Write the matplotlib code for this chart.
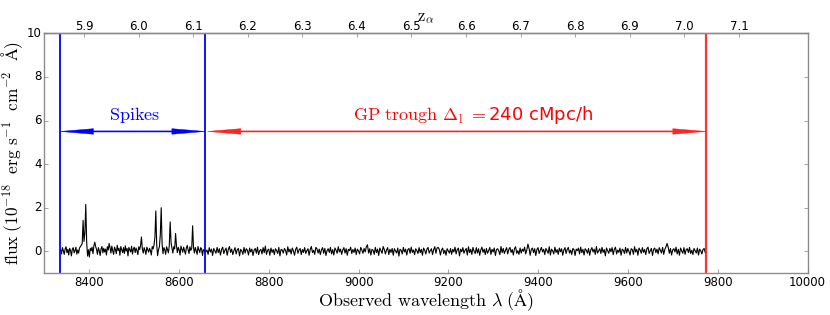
import numpy as np
import matplotlib
matplotlib.use("Agg")
import matplotlib.pyplot as plt
from matplotlib.ticker import FormatStrFormatter

plt.style.use("classic")
plt.rcParams["mathtext.fontset"] = "cm"

LYA = 1215.67

# spike region, 2 A sampling starting at 8336
spike_flux = [
    0.07, -0.12, 0.17, 0.03, -0.14, 0.11, 0.21, -0.06, 0.09, -0.17,
    0.14, 0.04, -0.21, 0.10, 0.17, -0.07, 0.03, 0.19, -0.13, 0.06,
    -0.08, 0.15, 0.22, 0.28, 0.35, 1.42, 0.45, 0.85, 2.15, 0.40,
    -0.22, 0.07, -0.26, 0.14, 0.03, 0.19, -0.11, 0.25, 0.42, 0.22,
    0.08, -0.14, 0.17, 0.04, -0.19, 0.11, 0.22, -0.07, 0.14, -0.03,
    0.10, -0.17, 0.21, 0.06, 0.36, 0.17, -0.08, 0.24, 0.03, -0.14,
    0.19, 0.08, -0.11, 0.28, 0.04, 0.14, -0.18, 0.22, 0.07, -0.06,
    0.17, -0.10, 0.25, 0.01, 0.13, -0.21, 0.18, 0.06, -0.03, 0.23,
    -0.13, 0.11, 0.19, -0.06, 0.15, 0.03, -0.15, 0.21, 0.08, 0.26,
    0.66, 0.11, -0.08, 0.17, 0.04, -0.14, 0.19, 0.07, -0.04, 0.14,
    0.03, -0.17, 0.22, 0.11, 0.28, 0.65, 1.85, 0.30, -0.20, 0.07,
    0.22, 0.75, 2.00, 0.35, -0.11, 0.17, 0.06, -0.14, 0.21, 0.08,
    -0.07, 0.25, 1.35, 0.40, 0.14, -0.08, 0.21, 0.11, 0.82, 0.26,
    -0.06, 0.18, 0.07, -0.17, 0.24, 0.10, -0.04, 0.19, 0.03, -0.13,
    0.15, 0.27, 0.06, -0.10, 0.21, 0.04, 0.14, 1.17, 0.16, -0.08,
    0.18, 0.03, -0.14, 0.22, 0.07, -0.06, 0.17, 0.11, -0.19, 0.08,
    0.03, -0.07,
]
spike_wave = 8336 + 2 * np.arange(len(spike_flux))

# GP trough region, 2.5 A sampling starting at 8662
trough_flux = [
    0.06, -0.14, 0.17, -0.03, 0.10, -0.19, 0.13, 0.02, -0.09, 0.18,
    -0.06, 0.12, -0.17, 0.08, 0.19, -0.10, 0.05, 0.15, -0.18, 0.09,
    0.22, -0.05, 0.10, -0.15, 0.03, 0.17, -0.12, 0.08, 0.13, -0.21,
    0.09, 0.02, -0.14, 0.18, -0.08, 0.12, 0.05, -0.17, 0.15, -0.03,
    0.10, -0.19, 0.06, 0.13, -0.09, 0.19, -0.15, 0.03, 0.09, -0.12,
    0.17, -0.06, 0.24, -0.14, 0.05, 0.10, -0.18, 0.15, -0.05, 0.08,
    -0.15, 0.12, 0.03, -0.10, 0.18, -0.21, 0.09, 0.06, -0.08, 0.13,
    0.05, -0.17, 0.21, -0.03, 0.10, -0.12, 0.15, 0.02, -0.18, 0.09,
    0.19, -0.09, 0.06, 0.13, -0.15, 0.08, -0.05, 0.17, -0.10, 0.03,
    0.12, -0.18, 0.09, 0.22, -0.06, 0.05, -0.14, 0.18, 0.12, -0.08,
    0.10, -0.15, 0.06, 0.17, -0.09, 0.13, -0.19, 0.03, 0.12, -0.05,
    0.18, -0.12, 0.08, -0.17, 0.15, 0.05, -0.09, 0.21, -0.03, 0.10,
    -0.14, 0.06, 0.17, -0.08, 0.12, -0.18, 0.09, 0.03, 0.19, -0.10,
    0.08, -0.05, 0.15, -0.15, 0.10, 0.02, -0.12, 0.18, 0.06, -0.09,
    0.13, -0.03, 0.21, 0.30, -0.08, 0.12, -0.17, 0.09, 0.05, -0.14,
    0.18, -0.06, 0.10, -0.19, 0.15, 0.03, -0.09, 0.22, 0.08, -0.12,
    0.06, 0.17, -0.15, 0.09, -0.05, 0.13, -0.18, 0.12, 0.02, -0.08,
    0.15, -0.22, 0.09, 0.05, -0.12, 0.18, -0.03, 0.10, -0.17, 0.08,
    0.13, -0.09, 0.19, -0.05, 0.06, -0.15, 0.12, 0.03, -0.10, 0.17,
    -0.06, 0.09, -0.18, 0.15, 0.05, -0.12, 0.10, 0.18, -0.08, 0.03,
    0.12, -0.15, 0.08, 0.21, -0.09, 0.15, 0.18, 0.09, -0.17, 0.06,
    0.15, -0.10, 0.05, -0.18, 0.12, 0.02, -0.08, 0.13, -0.14, 0.09,
    -0.03, 0.19, -0.12, 0.08, 0.15, -0.21, 0.10, -0.02, 0.17, -0.09,
    0.05, 0.13, -0.17, 0.21, -0.06, 0.09, -0.14, 0.18, 0.00, -0.10,
    0.17, -0.08, 0.12, -0.18, 0.06, 0.19, -0.05, 0.10, -0.15, 0.13,
    -0.09, 0.03, 0.18, -0.14, 0.09, -0.03, 0.15, -0.19, 0.08, 0.12,
    0.02, -0.15, 0.22, -0.06, 0.13, -0.10, 0.05, 0.17, -0.12, 0.09,
    0.18, -0.05, 0.08, -0.17, 0.12, 0.21, -0.09, 0.03, -0.14, 0.15,
    -0.08, 0.10, 0.00, 0.19, -0.12, 0.06, 0.33, 0.13, -0.18, 0.09,
    0.15, -0.06, 0.12, -0.19, 0.08, 0.17, -0.10, 0.05, 0.18, -0.03,
    0.09, -0.15, 0.13, 0.03, -0.09, 0.21, -0.17, 0.10, 0.02, -0.12,
    0.19, -0.05, 0.08, -0.14, 0.15, -0.02, 0.12, -0.18, 0.06, 0.17,
    -0.10, 0.09, 0.18, -0.08, 0.05, -0.15, 0.13, 0.08, -0.19, 0.10,
    0.03, 0.15, -0.12, 0.19, -0.06, 0.09, -0.17, 0.12, 0.05, -0.09,
    0.13, -0.18, 0.06, 0.17, -0.03, 0.10, -0.14, 0.22, -0.08, 0.02,
    0.12, -0.10, 0.18, -0.05, 0.08, -0.21, 0.15, 0.03, -0.09, 0.13,
    -0.02, 0.17, -0.15, 0.09, 0.19, -0.12, 0.06, -0.05, 0.15, -0.18,
    0.10, 0.05, -0.10, 0.18, -0.08, 0.13, 0.00, -0.17, 0.12, 0.08,
    -0.14, 0.21, -0.03, 0.09, -0.18, 0.15, 0.06, -0.09, 0.17, -0.05,
    0.08, -0.15, 0.12, 0.19, -0.10, 0.03, 0.13, -0.19, 0.09, 0.15,
    -0.06, 0.10, -0.12, 0.17, 0.05, -0.08, 0.18, -0.14, 0.09, 0.21,
    0.36, 0.18, -0.09, 0.13, -0.17, 0.06, 0.12, -0.03, 0.19, -0.12,
    0.09, -0.18, 0.15, 0.02, -0.09, 0.17, -0.14, 0.08, 0.12, -0.06,
    0.18, -0.10, 0.05, -0.15, 0.13, 0.03, -0.08, 0.15, -0.17, 0.10,
    0.03, -0.12, 0.08, 0.13, -0.05,
]
trough_wave = 8662 + 2.5 * np.arange(len(trough_flux))

wave = np.concatenate([spike_wave, trough_wave])
flux = np.concatenate([spike_flux, trough_flux])

spike_lo, spike_hi = 8335, 8658
trough_lo, trough_hi = 8663, 9774
arrow_y = 5.5
top_ticks = [5.9, 6.0, 6.1, 6.2, 6.3, 6.4, 6.5, 6.6, 6.7, 6.8, 6.9, 7.0, 7.1]

fig = plt.figure(figsize=(8.3, 3.15), dpi=100, facecolor="white")
ax = fig.add_axes([0.0536, 0.133, 0.9194, 0.761])

ax.plot(wave, flux, color="k", lw=0.8)
ax.axvline(spike_lo, color="b", lw=1.3)
ax.axvline(spike_hi, color="b", lw=1.3)
ax.axvline(trough_hi, color="r", lw=1.6, alpha=0.8)


def double_arrow(x0, x1, color, alpha=1.0):
    mid = 0.5 * (x0 + x1)
    for end in (x0, x1):
        ax.annotate("", xy=(end, arrow_y), xytext=(mid, arrow_y),
                    arrowprops=dict(color=color, alpha=alpha, width=0.8,
                                    headwidth=4, headlength=24, shrink=0, lw=0.3))


double_arrow(spike_lo, spike_hi, "b")
double_arrow(trough_lo, trough_hi, "r", 0.85)

ax.text(8500, 6.25, r"$\mathrm{Spikes}$", color="b", fontsize=13, ha="center", va="center")
ax.text(9255, 6.25, r"$\mathrm{GP\ trough\ }\Delta_\mathrm{l}\ {=}$240 cMpc/h",
        color="r", fontsize=13, ha="center", va="center")

ax.set_xlim(8300, 10000)
ax.set_ylim(-1, 10)
ax.set_xticks([8400, 8600, 8800, 9000, 9200, 9400, 9600, 9800, 10000])
ax.set_yticks([0, 2, 4, 6, 8, 10])
ax.tick_params(top=False, labeltop=False, labelsize=8.5, color="0.5", length=3, pad=2)
ax.set_xlabel(r"$\mathrm{Observed\ wavelength\ }\lambda\ \mathrm{(\AA)}$", fontsize=13, labelpad=-1)
ax.set_ylabel(r"$\mathrm{flux\ (10^{-18}\ \ erg\ s^{-1}\ \ cm^{-2}\ \ \AA)}$", fontsize=12.5, labelpad=1)

secax = ax.secondary_xaxis("top", functions=(lambda l: l / LYA - 1, lambda z: (z + 1) * LYA))
secax.set_xticks(top_ticks)
secax.xaxis.set_major_formatter(FormatStrFormatter("%.1f"))
secax.tick_params(labelsize=8.5, color="0.5", length=3, direction="in", pad=0.5)
secax.set_xlabel(r"$\mathrm{z}_\alpha$", fontsize=12, labelpad=-1)

for sp in list(ax.spines.values()) + list(secax.spines.values()):
    sp.set_color("0.55")

fig.savefig("out.png", dpi=100, facecolor="white")
